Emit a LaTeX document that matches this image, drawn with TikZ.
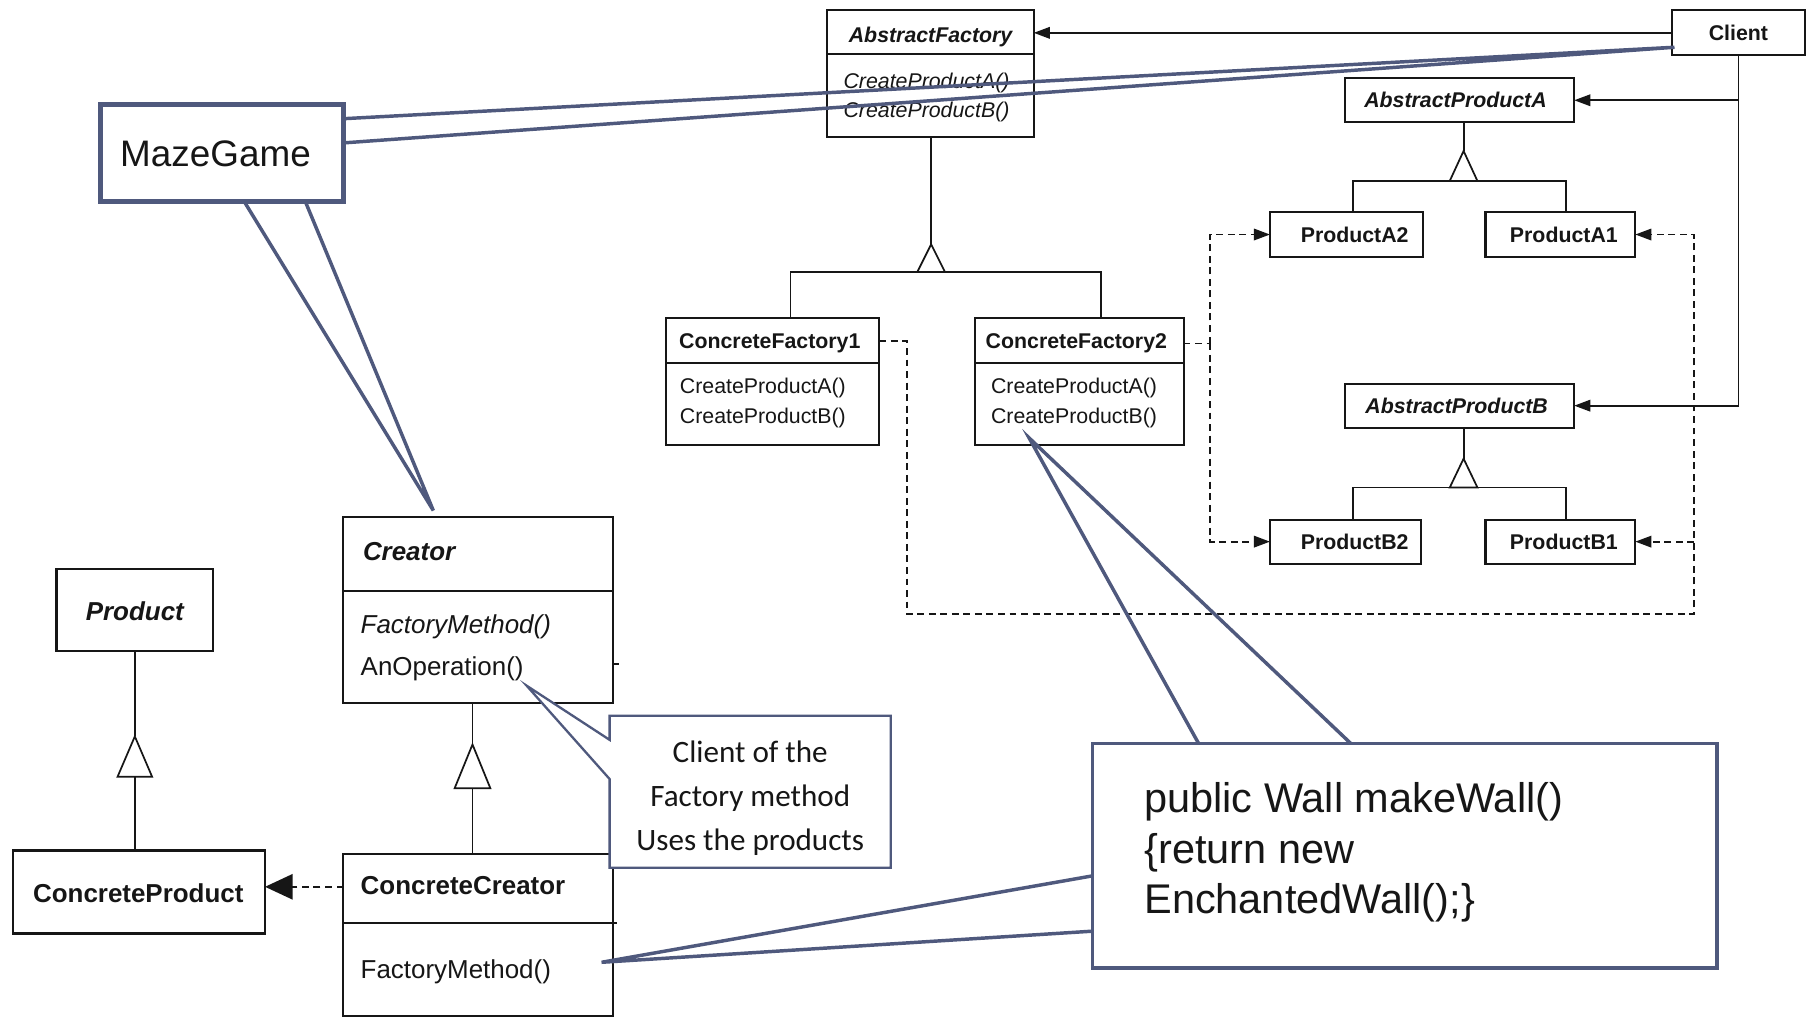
\documentclass[tikz,border=0pt]{standalone}
\usepackage{fontspec}
\setmainfont{Liberation Sans}
\newfontfamily\gillf{Carlito}
\usetikzlibrary{arrows.meta,fit}
\definecolor{notec}{RGB}{79,89,125}
\definecolor{ink}{RGB}{22,22,22}
\newcommand{\fsz}[1]{\fontsize{#1}{#1}\selectfont}
\begin{document}
\begin{tikzpicture}[x=1pt,y=-1pt,
  uml/.style={draw=ink, line width=1.8pt, fill=white, inner sep=0pt, outer sep=0pt},
  divl/.style={draw=ink, line width=1.8pt},
  conn/.style={draw=ink, line width=1.6pt},
  dep/.style={conn, dash pattern=on 6pt off 4pt},
  tip/.style={-{Triangle[length=14pt,width=10pt]}},
  bigtip/.style={-{Triangle[length=24pt,width=22pt]}},
  gen/.style={draw=ink, line width=1.5pt, fill=white},
  tx/.style={inner sep=0pt, outer sep=0pt, text=ink},
  sm/.style={tx, font=\fsz{18.5}},
  smb/.style={tx, font=\fsz{18.5}\bfseries},
  smbi/.style={tx, font=\fsz{18.5}\bfseries\itshape},
  smi/.style={tx, font=\fsz{18.5}\itshape},
  lg/.style={tx, font=\fsz{22.5}},
  lgb/.style={tx, font=\fsz{22.5}\bfseries},
  lgbi/.style={tx, font=\fsz{22.5}\bfseries\itshape},
  lgi/.style={tx, font=\fsz{22.5}\itshape},
  noteline/.style={draw=notec, line width=3pt, line join=miter},
]
\fill[white] (0,0) rectangle (1568,884.2);
\useasboundingbox (0,0) rectangle (1568,884.2);

% ---------- Abstract Factory diagram ----------
\node[uml, fit={(718,9)(897,119)}] (af) {};
\draw[divl] (af.west |- 0,47) -- (af.east |- 0,47);
\node[smbi, anchor=base] (aft) at (807.5,36.6) {AbstractFactory};
\node[smi, anchor=base west] (afm1) at (732,76.6) {CreateProductA()};
\node[smi, anchor=base west] (afm2) at (732,101.6) {CreateProductB()};

\node[uml, fit={(1451,9)(1566,48)}] (client) {};
\node[smb, anchor=base] (clt) at (1508.5,35) {Client};

\node[uml, fit={(1167,68)(1366,106)}] (apa) {};
\node[smbi, anchor=base] (apat) at (1263,93.6) {AbstractProductA};
\node[uml, fit={(1102,184)(1235,223)}] (pa2) {};
\node[smb, anchor=base] (pa2t) at (1175.5,210.2) {ProductA2};
\node[uml, fit={(1289,184)(1419,223)}] (pa1) {};
\node[smb, anchor=base] (pa1t) at (1357,210.2) {ProductA1};

\node[uml, fit={(1167,333)(1366,371)}] (apb) {};
\node[smbi, anchor=base] (apbt) at (1264,359) {AbstractProductB};
\node[uml, fit={(1102,451)(1233,489)}] (pb2) {};
\node[smb, anchor=base] (pb2t) at (1175.5,476.6) {ProductB2};
\node[uml, fit={(1289,451)(1419,489)}] (pb1) {};
\node[smb, anchor=base] (pb1t) at (1357,476.6) {ProductB1};

\node[uml, fit={(578,276)(763,386)}] (cf1) {};
\draw[divl] (cf1.west |- 0,315) -- (cf1.east |- 0,315);
\node[smb, anchor=base] (cf1t) at (668,302.6) {ConcreteFactory1};
\node[sm, anchor=base west] (cf1m1) at (590,341.6) {CreateProductA()};
\node[sm, anchor=base west] (cf1m2) at (590,367.6) {CreateProductB()};

\node[uml, fit={(846,276)(1027,386)}] (cf2) {};
\draw[divl] (cf2.west |- 0,315) -- (cf2.east |- 0,315);
\node[smb, anchor=base] (cf2t) at (934,302.6) {ConcreteFactory2};
\node[sm, anchor=base west] (cf2m1) at (860,341.6) {CreateProductA()};
\node[sm, anchor=base west] (cf2m2) at (860,367.6) {CreateProductB()};

% client associations
\draw[conn, tip] (client.west) -- (client.west -| af.east);
\draw[conn, tip] (client.south) |- (apb.east);
\draw[conn, tip] (client.south |- apa.east) -- (apa.east);

% generalization AbstractFactory
\coordinate (tAF) at (808,212);
\coordinate (bAF) at (808,236);
\draw[conn] (af.south -| tAF) -- (tAF);
\draw[conn] ([xshift=108pt]cf1.north west) |- (bAF) -| ([xshift=109pt]cf2.north west);
\draw[gen] (tAF) -- (820,236) -- (796,236) -- cycle;

% generalization AbstractProductA
\coordinate (tPA) at (1270,131);
\coordinate (bPA) at (1270,157);
\draw[conn] (apa.south -| tPA) -- (tPA);
\draw[conn] ([xshift=72pt]pa2.north west) |- (bPA) -| ([xshift=70pt]pa1.north west);
\draw[gen] (tPA) -- (1282,157) -- (1258,157) -- cycle;

% generalization AbstractProductB
\coordinate (tPB) at (1270,398);
\coordinate (bPB) at (1270,423);
\draw[conn] (apb.south -| tPB) -- (tPB);
\draw[conn] ([xshift=72pt]pb2.north west) |- (bPB) -| ([xshift=70pt]pb1.north west);
\draw[gen] (tPB) -- (1282,423) -- (1258,423) -- cycle;

% dependencies (dashed)
\coordinate (d1) at (787,533);
\coordinate (d2) at (1470,533);
\coordinate (d3) at (1050,298);
\draw[dep, tip] ([yshift=-20pt]cf1.north east) -| (d1) -- (d2) |- (pa1.east);
\draw[dep, tip] (d2 |- pb1.east) -- (pb1.east);
\draw[dep] ([yshift=-22pt]cf2.north east) -- (d3);
\draw[dep, tip] (d3) |- (pa2.west);
\draw[dep, tip] (d3) |- (pb2.west);

% ---------- Factory Method diagram ----------
\node[uml, fit={(298,449)(532,610)}] (creator) {};
\draw[divl] (creator.west |- 0,513) -- (creator.east |- 0,513);
\node[lgbi, anchor=base west] (crt) at (315,486) {Creator};
\node[lgi, anchor=base west] (crm1) at (313,550) {FactoryMethod()};
\node[lg, anchor=base west] (crm2) at (313,586) {AnOperation()};
\draw[conn] (creator.east |- 0,576) -- ++(5,0);

\node[uml, fit={(49,494)(185,565)}] (product) {};
\node[lgbi, anchor=base] (prt) at (117,538) {Product};

\node[uml, fit={(11,738)(230,810)}] (cproduct) {};
\node[lgb, anchor=base] (cprt) at (120,783) {ConcreteProduct};

\node[uml, fit={(298,741)(532,882)}] (ccreator) {};
\draw[divl] (ccreator.west |- 0,801) -- ([xshift=3pt]ccreator.east |- 0,801);
\node[lgb, anchor=base west] (cct) at (313,776) {ConcreteCreator};
\node[lg, anchor=base west] (ccm) at (313,849) {FactoryMethod()};

% generalization Product
\coordinate (tP) at (117,639);
\coordinate (bP) at (117,674);
\draw[conn] (product.south) -- (tP);
\draw[conn] (bP) -- (cproduct.north -| bP);
\draw[gen] (tP) -- (132,674) -- (102,674) -- cycle;

% generalization Creator
\coordinate (tC) at (410,646);
\coordinate (bC) at (410,684);
\draw[conn] (creator.south -| tC) -- (tC);
\draw[conn] (bC) -- (ccreator.north -| bC);
\draw[gen] (tC) -- (425.5,684) -- (394.5,684) -- cycle;

% dependency ConcreteCreator -> ConcreteProduct
\draw[dep, bigtip] ([yshift=4.5pt]cproduct.east -| ccreator.west) -- ([yshift=4.5pt]cproduct.east);

% ---------- annotations ----------
% MazeGame
\coordinate (mzA) at (1453,41);
\coordinate (mzB) at (376,443);
\draw[noteline] (298,103) -- (mzA) -- (298,124);
\draw[noteline] (212,175) -- (mzB) -- (265,175);
\node[draw=notec, line width=4.3pt, fill=white, inner sep=0pt, fit={(87,91)(298,175)}] (maze) {};
\node[tx, font=\fsz{32}, anchor=base] (mazet) at (187,144.5) {MazeGame};

% makeWall box
\coordinate (mwA) at (893,380);
\coordinate (mwB) at (522,835);
\draw[noteline] (1040,645) -- (mwA) -- (1172,645);
\draw[noteline] (948,760) -- (mwB) -- (948,808);
\node[draw=notec, line width=3pt, fill=white, inner sep=0pt, fit={(948,645)(1490,840)}] (mw) {};
\node[tx, font=\fsz{36}, anchor=base west] (mw1) at (993,705) {public Wall makeWall()};
\node[tx, font=\fsz{36}, anchor=base west] (mw2) at (993,749) {\{return new};
\node[tx, font=\fsz{36}, anchor=base west] (mw3) at (993,793) {EnchantedWall();\}};

% callout: client of the factory method
\coordinate (clp) at (457,595);
\draw[draw=notec, line width=2pt, fill=white, line join=miter]
  (529,621) -- (773,621) -- (773,753) -- (529,753) -- (529,676) -- (clp) -- (529,642) -- cycle;
\node[tx, font=\gillf\fsz{27}, anchor=base] (cl1) at (651,662) {Client of the};
\node[tx, font=\gillf\fsz{27}, anchor=base] (cl2) at (651,700) {Factory method};
\node[tx, font=\gillf\fsz{27}, anchor=base] (cl3) at (651,738) {Uses the products};
\end{tikzpicture}
\end{document}
